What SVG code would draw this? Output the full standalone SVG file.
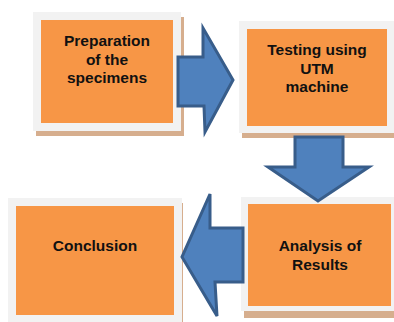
<svg xmlns="http://www.w3.org/2000/svg" width="394" height="322" viewBox="0 0 394 322">
<style>
.shadow{fill:#D6AE8E}
.frame{fill:#F2F2F2}
.box{fill:#F79646}
.arrow{fill:#4F81BD;stroke:#385D8A;stroke-width:3;stroke-linejoin:miter}
text{font-family:"Liberation Sans",Arial,sans-serif;font-weight:bold;font-size:15.5px;fill:#111;text-anchor:middle}
</style>
<rect width="394" height="322" fill="#FFFFFF"/>
<g id="node-preparation">
<rect class="shadow" x="36" y="17" width="148" height="119"/>
<rect class="frame" x="33" y="12" width="148" height="119"/>
<rect class="box" x="41" y="20" width="132" height="103"/>
<text x="107" y="46">Preparation</text>
<text x="107" y="65">of the</text>
<text x="107" y="83">specimens</text>
</g>
<g id="node-testing">
<rect class="shadow" x="242" y="26" width="152" height="112"/>
<rect class="frame" x="239" y="21" width="155" height="112"/>
<rect class="box" x="247" y="29" width="140" height="97"/>
<text x="317" y="55">Testing using</text>
<text x="317" y="74">UTM</text>
<text x="317" y="92">machine</text>
</g>
<g id="node-conclusion">
<rect class="shadow" x="11" y="203" width="172" height="119"/>
<rect class="frame" x="8" y="198" width="174" height="124"/>
<rect class="box" x="16" y="206" width="158" height="109"/>
<text x="95" y="251">Conclusion</text>
</g>
<g id="node-analysis">
<rect class="shadow" x="244" y="202" width="150" height="116"/>
<rect class="frame" x="241" y="197" width="153" height="114"/>
<rect class="box" x="248" y="204" width="143" height="102"/>
<text x="320" y="251">Analysis of</text>
<text x="320" y="270">Results</text>
</g>
<g id="connectors">
<polygon class="arrow" points="178,57 203,57 203,28 233,80 205,132 204,106 178,106"/>
<polygon class="arrow" points="295,137 343,137 343,167 369,167 318,201 268,167 295,167"/>
<polygon class="arrow" points="243,228 210,228 210,194 182,257 217,316 215,282 243,282"/>
</g>
</svg>
